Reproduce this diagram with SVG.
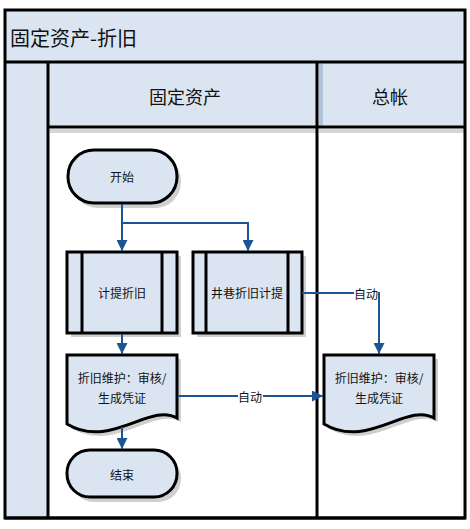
<svg xmlns="http://www.w3.org/2000/svg" width="470" height="529" viewBox="0 0 470 529">
<style>
.frame{fill:none;stroke:#000;stroke-width:3}
.node{fill:#dbe5f2;stroke:#000;stroke-width:3}
.shadow{fill:#cfcfcf}
.txt{font-family:"Noto Sans CJK SC","Liberation Sans",sans-serif;font-size:12px;fill:#111;text-anchor:middle;dominant-baseline:central}
.hdr{font-family:"Noto Sans CJK SC","Liberation Sans",sans-serif;font-size:18px;fill:#111;text-anchor:middle;dominant-baseline:central}
.conn{fill:none;stroke:#1c5596;stroke-width:2}
.lbl{font-family:"Noto Sans CJK SC","Liberation Sans",sans-serif;font-size:12px;fill:#111;text-anchor:middle;dominant-baseline:central}
</style>
<defs>
<marker id="ah" viewBox="0 0 10 10" refX="10" refY="5" markerWidth="5.5" markerHeight="5.5" orient="auto">
<path d="M0,0 L10,5 L0,10 Z" fill="#1c5596"/>
</marker>
</defs>
<rect width="470" height="529" fill="#fff"/>
<g id="pool">
<rect x="5" y="10" width="460" height="52" fill="#dbe5f2"/>
<rect x="5" y="62" width="43" height="456" fill="#dbe5f2"/>
<rect x="48" y="62" width="417" height="65" fill="#dbe5f2"/>
<rect x="50" y="129" width="266" height="4" fill="#d6d6d6"/>
<rect x="319" y="129" width="145" height="4" fill="#d6d6d6"/>
<rect x="319" y="64" width="4" height="62" fill="#b3c3da"/>
<rect x="5" y="10" width="460" height="508" class="frame" stroke-width="2"/>
<line x1="5" y1="62" x2="465" y2="62" stroke="#000" stroke-width="3"/>
<line x1="48" y1="62" x2="48" y2="518" stroke="#000" stroke-width="3"/>
<line x1="48" y1="127" x2="465" y2="127" stroke="#000" stroke-width="3"/>
<line x1="317" y1="62" x2="317" y2="518" stroke="#000" stroke-width="3"/>
<line x1="5" y1="518" x2="465" y2="518" stroke="#000" stroke-width="3"/>
<text x="10" y="37" font-family="&quot;Noto Sans CJK SC&quot;,&quot;Liberation Sans&quot;,sans-serif" font-size="20" fill="#111" dominant-baseline="central">固定资产-折旧</text>
<text x="185" y="96" class="hdr">固定资产</text>
<text x="390" y="96" class="hdr">总帐</text>
</g>
<g id="start">
<rect x="72" y="155" width="109" height="53" rx="26" class="shadow"/>
<rect x="68" y="150" width="109" height="53" rx="26" class="node"/>
<text x="122" y="176" class="txt">开始</text>
</g>
<g id="jiti">
<rect x="71" y="256" width="110" height="81" class="shadow"/>
<rect x="67" y="252" width="110" height="81" class="node"/>
<line x1="82" y1="252" x2="82" y2="333" stroke="#000" stroke-width="3"/>
<line x1="162" y1="252" x2="162" y2="333" stroke="#000" stroke-width="3"/>
<text x="122" y="292" class="txt">计提折旧</text>
</g>
<g id="jingxiang">
<rect x="197" y="256" width="109" height="81" class="shadow"/>
<rect x="193" y="252" width="109" height="81" class="node"/>
<line x1="206" y1="252" x2="206" y2="333" stroke="#000" stroke-width="3"/>
<line x1="288" y1="252" x2="288" y2="333" stroke="#000" stroke-width="3"/>
<text x="247" y="292" class="txt">井巷折旧计提</text>
</g>
<g id="doc1">
<path d="M71,359 H181 V422 C154,406 114,454 71,428 Z" class="shadow"/>
<path d="M67,355 H177 V418 C150,402 110,450 67,424 Z" class="node"/>
<text x="122" y="377" class="txt">折旧维护：审核/</text>
<text x="122" y="397" class="txt">生成凭证</text>
</g>
<g id="doc2">
<path d="M328,359 H438 V422 C411,406 371,454 328,428 Z" class="shadow"/>
<path d="M324,355 H434 V418 C407,402 367,450 324,424 Z" class="node"/>
<text x="379" y="377" class="txt">折旧维护：审核/</text>
<text x="379" y="397" class="txt">生成凭证</text>
</g>
<g id="end">
<rect x="71" y="455" width="110" height="47" rx="23" class="shadow"/>
<rect x="67" y="450" width="110" height="47" rx="23" class="node"/>
<text x="122" y="474" class="txt">结束</text>
</g>
<g id="connectors">
<path d="M122,204 V251" class="conn" marker-end="url(#ah)"/>
<path d="M122,223 H248 V251" class="conn" marker-end="url(#ah)"/>
<path d="M302,293 H379 V354" class="conn" marker-end="url(#ah)"/>
<rect x="354" y="285" width="24" height="17" fill="#fff"/>
<text x="366" y="293" class="lbl">自动</text>
<path d="M122,334 V354" class="conn" marker-end="url(#ah)"/>
<path d="M178,396 H323" class="conn" marker-end="url(#ah)"/>
<rect x="238" y="388" width="25" height="17" fill="#fff"/>
<text x="250" y="396" class="lbl">自动</text>
<path d="M122,427 V449" class="conn" marker-end="url(#ah)"/>
</g>
</svg>
